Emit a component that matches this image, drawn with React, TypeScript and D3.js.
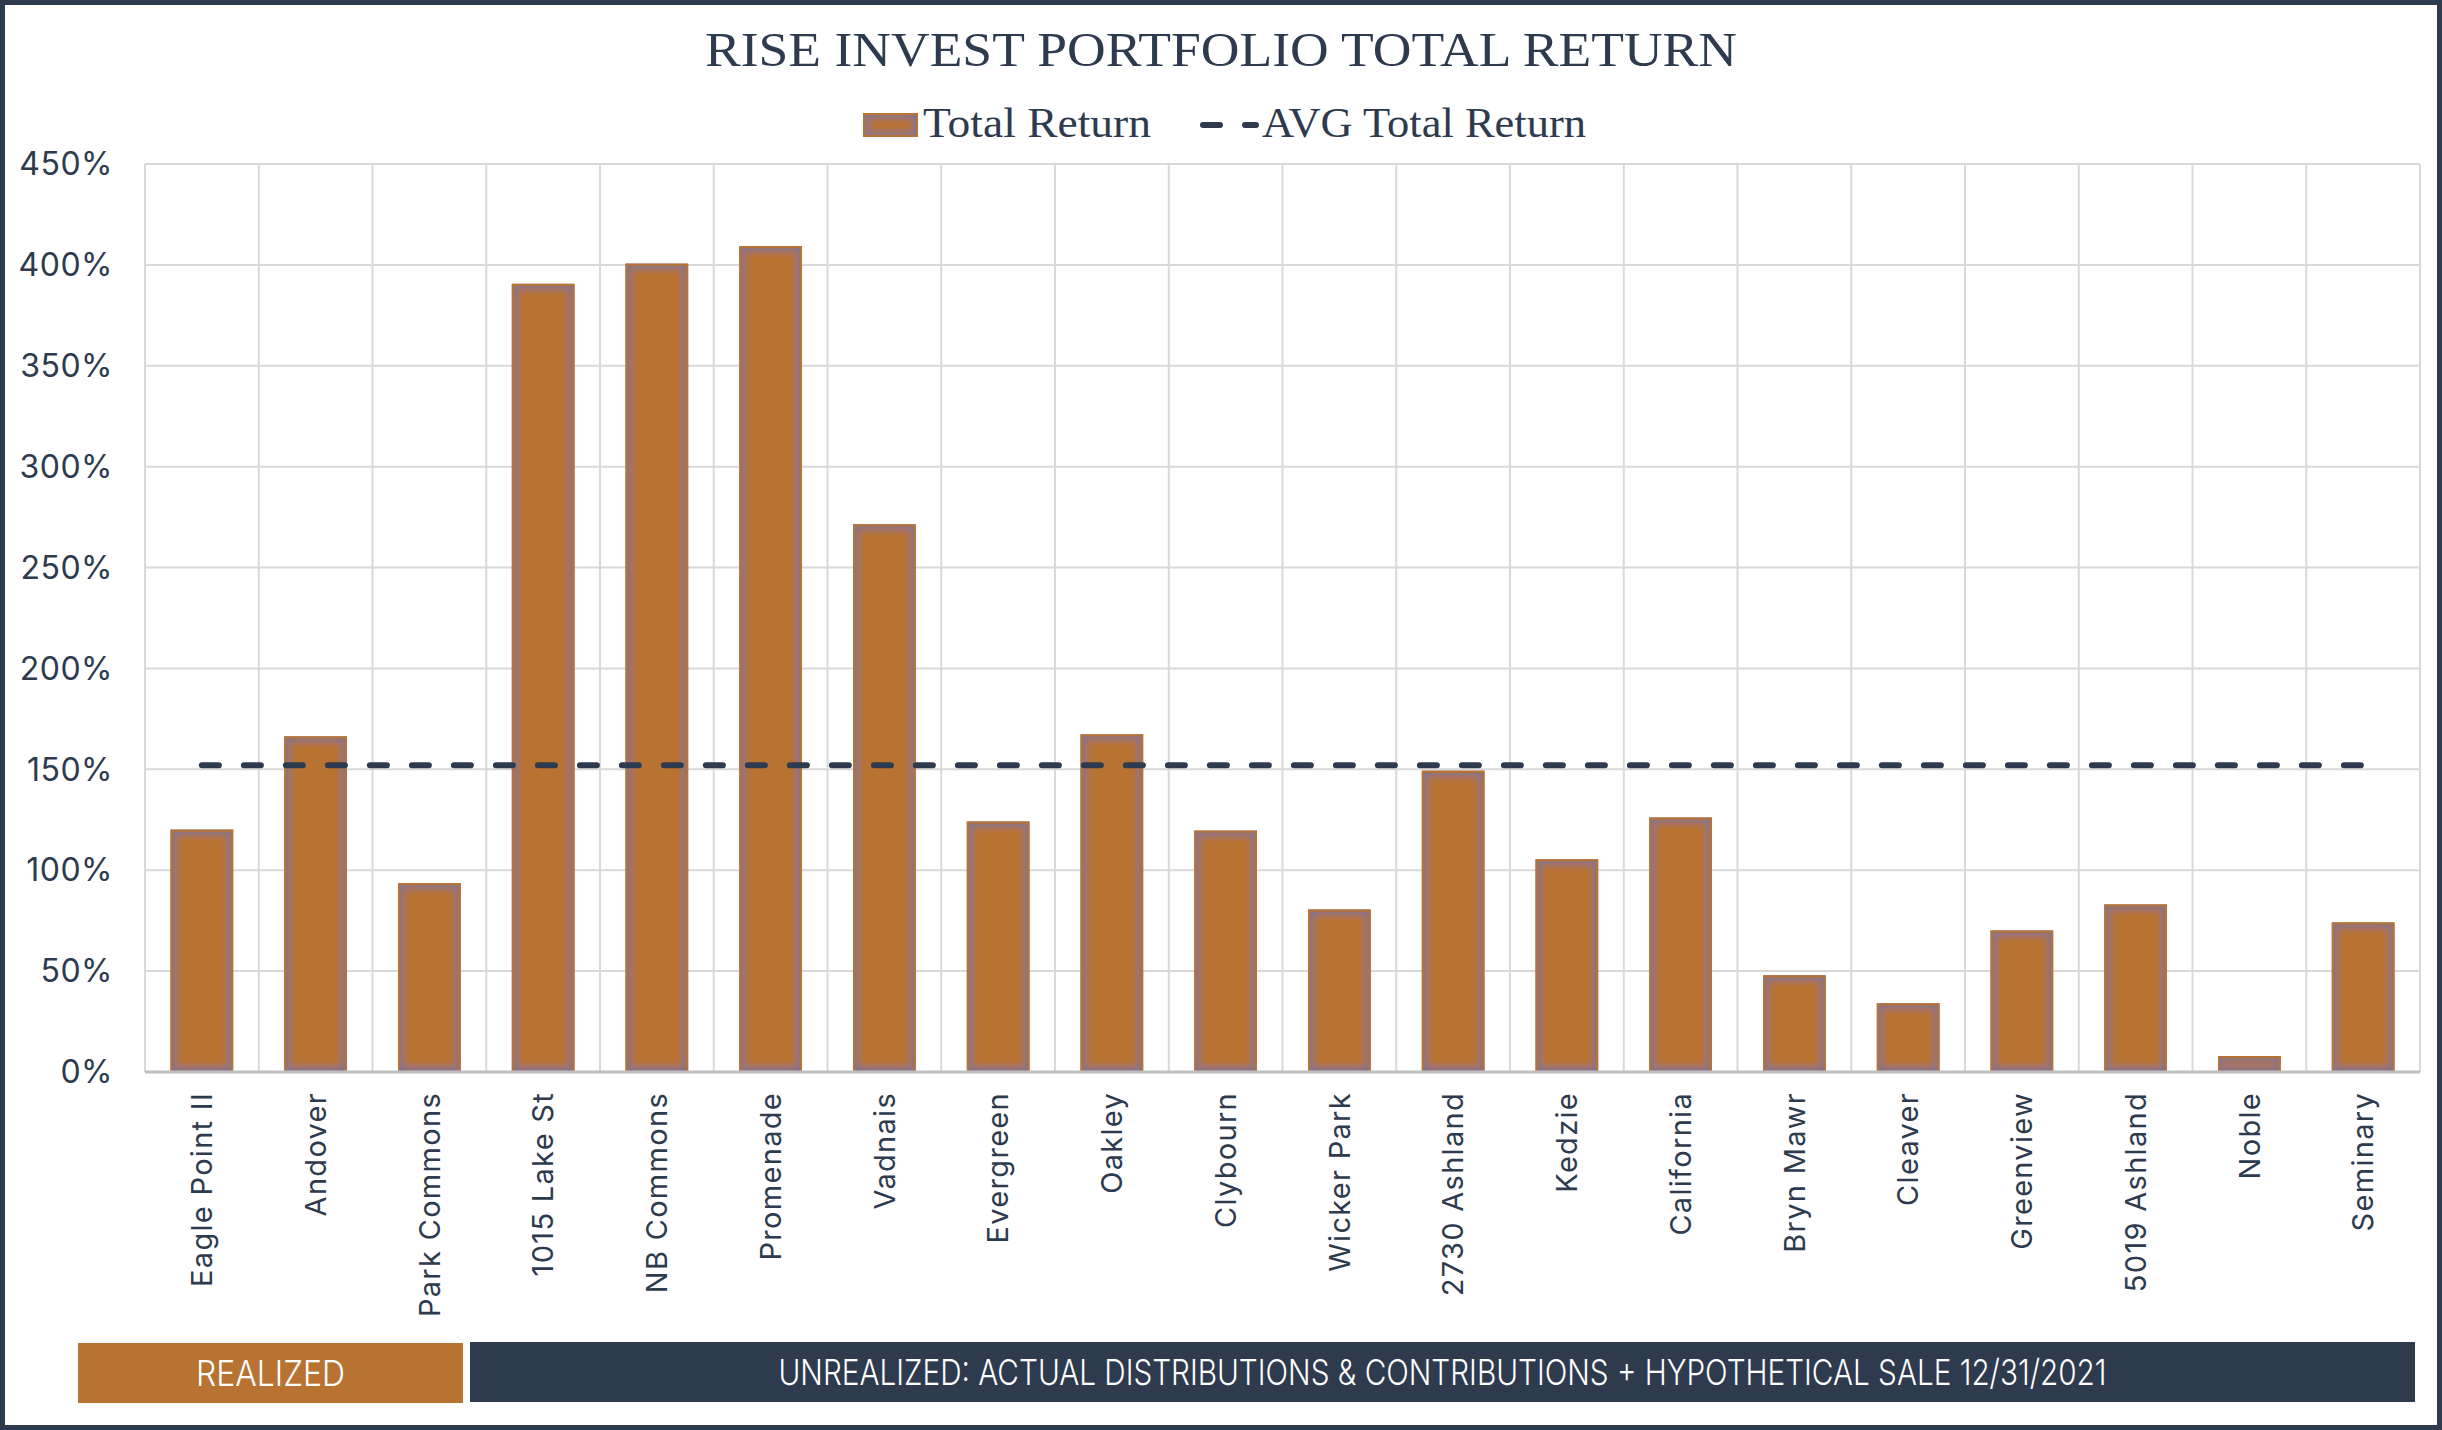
import React, { useRef, useEffect } from "react";
import * as d3 from "d3";

const properties = [
  "Eagle Point II",
  "Andover",
  "Park Commons",
  "1015 Lake St",
  "NB Commons",
  "Promenade",
  "Vadnais",
  "Evergreen",
  "Oakley",
  "Clybourn",
  "Wicker Park",
  "2730 Ashland",
  "Kedzie",
  "California",
  "Bryn Mawr",
  "Cleaver",
  "Greenview",
  "5019 Ashland",
  "Noble",
  "Seminary",
];

// total return in percent
const totalReturn = [
  120.1, 166.3, 93.6, 390.6, 400.6, 409.3, 271.4, 124.1, 167.3, 119.6, 80.5,
  149.3, 105.4, 126.1, 47.9, 34.0, 70.1, 83.0, 7.9, 74.1,
];

const yTicks = [0, 50, 100, 150, 200, 250, 300, 350, 400, 450];

const seriesNames = ["Total Return", "AVG Total Return"];
const bannerLabels = [
  "REALIZED",
  "UNREALIZED: ACTUAL DISTRIBUTIONS & CONTRIBUTIONS + HYPOTHETICAL SALE 12/31/2021",
];

const W = 2442;
const H = 1430;
const NAVY = "#2E3A4E";
const COPPER = "#B87333";
const SANS = "Inter, 'Noto Sans', sans-serif";
const SERIF = "'Liberation Serif', 'DejaVu Serif', serif";

const App: React.FC = () => {
  const svgRef = useRef<SVGSVGElement | null>(null);

  useEffect(() => {
    if (!svgRef.current) return;
    const svg = d3.select(svgRef.current);
    svg.selectAll("*").remove();

    const margin = { left: 145, right: 22, top: 164, bottom: 358 };
    const x = d3
      .scaleBand<string>()
      .domain(properties)
      .range([margin.left, W - margin.right])
      .paddingInner(0.45)
      .paddingOuter(0.225);
    const y = d3
      .scaleLinear()
      .domain([0, 450])
      .range([H - margin.bottom, margin.top]);

    const step = x.step();
    const x0 = margin.left;
    const x1 = W - margin.right;

    // inner glow on bars
    const defs = svg.append("defs");
    const f = defs
      .append("filter")
      .attr("id", "glow")
      .attr("x", "-5%")
      .attr("y", "-5%")
      .attr("width", "110%")
      .attr("height", "110%");
    f.append("feMorphology")
      .attr("in", "SourceAlpha")
      .attr("operator", "erode")
      .attr("radius", 5)
      .attr("result", "er");
    f.append("feGaussianBlur")
      .attr("in", "er")
      .attr("stdDeviation", 3.5)
      .attr("result", "bl");
    f.append("feComposite")
      .attr("in", "SourceAlpha")
      .attr("in2", "bl")
      .attr("operator", "out")
      .attr("result", "ring");
    f.append("feFlood").attr("flood-color", "#7a7592").attr("flood-opacity", 0.9);
    f.append("feComposite").attr("in2", "ring").attr("operator", "in").attr("result", "g");
    const fm = f.append("feMerge");
    fm.append("feMergeNode").attr("in", "SourceGraphic");
    fm.append("feMergeNode").attr("in", "g");

    // frame
    svg
      .append("rect")
      .attr("x", 2.5)
      .attr("y", 2.5)
      .attr("width", W - 5)
      .attr("height", H - 5)
      .attr("fill", "#fff")
      .attr("stroke", NAVY)
      .attr("stroke-width", 5);

    // title
    svg
      .append("text")
      .attr("x", W / 2)
      .attr("y", 66)
      .attr("text-anchor", "middle")
      .attr("font-family", SERIF)
      .attr("font-size", 49)
      .attr("fill", NAVY)
      .attr("textLength", 1032)
      .attr("lengthAdjust", "spacingAndGlyphs")
      .text("RISE INVEST PORTFOLIO TOTAL RETURN");

    // horizontal grid
    svg
      .append("g")
      .selectAll("line")
      .data(yTicks.slice(1))
      .enter()
      .append("line")
      .attr("x1", x0)
      .attr("x2", x1)
      .attr("y1", (d) => y(d))
      .attr("y2", (d) => y(d))
      .attr("stroke", "#D9D9D9")
      .attr("stroke-width", 2);

    // vertical grid at band edges
    svg
      .append("g")
      .selectAll("line")
      .data(d3.range(properties.length + 1))
      .enter()
      .append("line")
      .attr("x1", (i) => x0 + i * step)
      .attr("x2", (i) => x0 + i * step)
      .attr("y1", y(450))
      .attr("y2", y(0))
      .attr("stroke", "#D9D9D9")
      .attr("stroke-width", 2);

    // y tick labels
    svg
      .append("g")
      .selectAll("text")
      .data(yTicks)
      .enter()
      .append("text")
      .attr("x", 113)
      .attr("y", (d) => y(d))
      .attr("dy", "0.35em")
      .attr("text-anchor", "end")
      .attr("font-family", SANS)
      .attr("font-size", 32)
      .attr("letter-spacing", 0.5)
      .attr("fill", NAVY)
      .text((d) => `${d}%`);

    // bars
    const bars = svg.append("g");
    bars
      .selectAll("rect.bar")
      .data(totalReturn)
      .enter()
      .append("rect")
      .attr("class", "bar")
      .attr("x", (_, i) => x(properties[i])!)
      .attr("y", (d) => y(d))
      .attr("width", x.bandwidth())
      .attr("height", (d) => y(0) - y(d))
      .attr("fill", COPPER)
      .attr("filter", "url(#glow)");
    bars
      .selectAll("rect.edge")
      .data(totalReturn)
      .enter()
      .append("rect")
      .attr("class", "edge")
      .attr("x", (_, i) => x(properties[i])! + 1)
      .attr("y", (d) => y(d) + 1)
      .attr("width", x.bandwidth() - 2)
      .attr("height", (d) => y(0) - y(d) - 1)
      .attr("fill", "none")
      .attr("stroke", COPPER)
      .attr("stroke-width", 2);

    // x axis line
    svg
      .append("line")
      .attr("x1", x0)
      .attr("x2", x1)
      .attr("y1", y(0))
      .attr("y2", y(0))
      .attr("stroke", "#BFBFBF")
      .attr("stroke-width", 3);

    // average line
    const avg = d3.mean(totalReturn)!;
    const cx = (p: string) => x(p)! + x.bandwidth() / 2;
    svg
      .append("line")
      .attr("x1", cx(properties[0]))
      .attr("x2", cx(properties[properties.length - 1]))
      .attr("y1", y(avg))
      .attr("y2", y(avg))
      .attr("stroke", NAVY)
      .attr("stroke-width", 6)
      .attr("stroke-linecap", "round")
      .attr("stroke-dasharray", "17 25");

    // x labels
    svg
      .append("g")
      .selectAll("text")
      .data(properties)
      .enter()
      .append("text")
      .attr("transform", (d) => `translate(${cx(d)},1092) rotate(-90)`)
      .attr("dy", "0.35em")
      .attr("text-anchor", "end")
      .attr("font-family", SANS)
      .attr("font-size", 29)
      .attr("letter-spacing", 1.3)
      .attr("fill", NAVY)
      .text((d) => d);

    // legend
    const lg = svg.append("g");
    lg.append("rect")
      .attr("x", 863)
      .attr("y", 113)
      .attr("width", 55)
      .attr("height", 24)
      .attr("fill", COPPER)
      .attr("filter", "url(#glow)");
    lg.append("rect")
      .attr("x", 864)
      .attr("y", 114)
      .attr("width", 53)
      .attr("height", 22)
      .attr("fill", "none")
      .attr("stroke", COPPER)
      .attr("stroke-width", 2);
    lg.append("text")
      .attr("x", 923)
      .attr("y", 137)
      .attr("font-family", SERIF)
      .attr("font-size", 42)
      .attr("fill", NAVY)
      .attr("textLength", 228)
      .attr("lengthAdjust", "spacingAndGlyphs")
      .text(seriesNames[0]);
    lg.append("line")
      .attr("x1", 1203)
      .attr("x2", 1256)
      .attr("y1", 125)
      .attr("y2", 125)
      .attr("stroke", NAVY)
      .attr("stroke-width", 6)
      .attr("stroke-linecap", "round")
      .attr("stroke-dasharray", "17 25");
    lg.append("text")
      .attr("x", 1262)
      .attr("y", 137)
      .attr("font-family", SERIF)
      .attr("font-size", 42)
      .attr("fill", NAVY)
      .attr("textLength", 324)
      .attr("lengthAdjust", "spacingAndGlyphs")
      .text(seriesNames[1]);

    // banners
    const banners = [
      { x: 78, y: 1343, w: 385, h: 60, fill: COPPER, tl: 149 },
      { x: 470, y: 1342, w: 1945, h: 60, fill: NAVY, tl: 1328 },
    ];
    const bg = svg.append("g");
    bg.selectAll("rect")
      .data(banners)
      .enter()
      .append("rect")
      .attr("x", (d) => d.x)
      .attr("y", (d) => d.y)
      .attr("width", (d) => d.w)
      .attr("height", (d) => d.h)
      .attr("fill", (d) => d.fill);
    bg.selectAll("text")
      .data(banners)
      .enter()
      .append("text")
      .attr("x", (d) => d.x + d.w / 2)
      .attr("y", (d) => d.y + d.h / 2)
      .attr("dy", "0.36em")
      .attr("text-anchor", "middle")
      .attr("font-family", SANS)
      .attr("font-size", 36)
      .attr("font-weight", 300)
      .attr("fill", "#fff")
      .attr("textLength", (d) => d.tl)
      .attr("lengthAdjust", "spacingAndGlyphs")
      .text((_, i) => bannerLabels[i]);
  }, []);

  return (
    <div style={{ position: "absolute", left: 0, top: 0 }}>
      <svg ref={svgRef} width={W} height={H}></svg>
    </div>
  );
};

export default App;
